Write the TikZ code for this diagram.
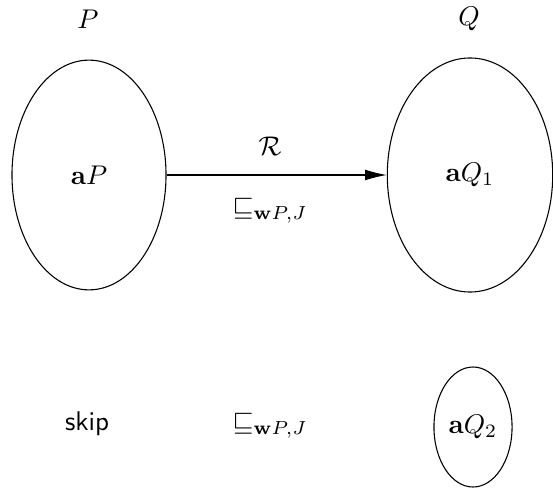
\documentclass[tikz,border=0pt]{standalone}
\usepackage{amsmath,amssymb}
\usepackage{tikz}
\usetikzlibrary{arrows.meta,positioning,shapes.geometric}

\begin{document}
\begin{tikzpicture}[
  x=0.37pt, y=-0.37pt,
  set/.style={draw, ellipse, inner sep=0pt, line width=0.4pt},
  lbl/.style={inner sep=1pt}
]
  \useasboundingbox (0,0) rectangle (553,489);
  % sets
  \node[set, minimum width=57pt, minimum height=85pt] (p) at (89,175) {$\mathbf{a}P$};
  \node[set, minimum width=61.2pt, minimum height=86.6pt] (q1) at (470,175) {$\mathbf{a}Q_1$};
  \node[set, minimum width=28.9pt, minimum height=44.4pt] (q2) at (473,427) {$\mathbf{a}Q_2$};
  % titles
  \node[lbl] (tp) at (88,19) {$P$};
  \node[lbl] (tq) at (469,19) {$Q$};
  \node[lbl] (sk) at (87,424) {\textsf{skip}};
  % relation
  \draw[-{Latex[length=8pt,width=4pt]}] (p.east) -- (q1.west);
  \node[lbl] (rel) at (270,146) {$\mathcal{R}$};
  \node[lbl] (ref1) at (270,211) {$\sqsubseteq_{\mathbf{w}P,J}$};
  \node[lbl] (ref2) at (270,426) {$\sqsubseteq_{\mathbf{w}P,J}$};
\end{tikzpicture}
\end{document}
